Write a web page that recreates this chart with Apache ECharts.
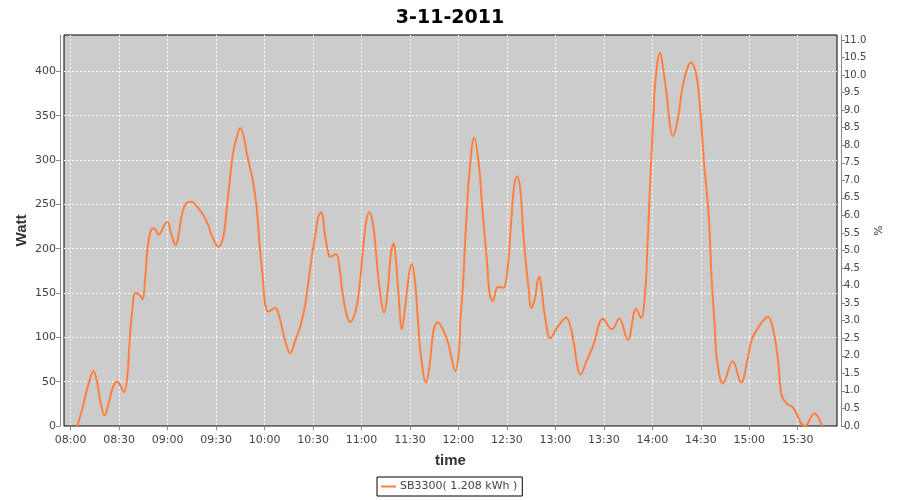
<!DOCTYPE html>
<html>
<head>
<meta charset="utf-8">
<script src="https://cdn.jsdelivr.net/npm/echarts@6/dist/echarts.min.js"></script>
<style>
html,body{margin:0;padding:0;background:#fff;}
#chart{width:900px;height:500px;}
</style>
</head>
<body>
<div id="chart"></div>
<script>
var chartTitle = '3-11-2011';
var seriesName = 'SB3300( 1.208 kWh )';
var xTickLabels = ['08:00','08:30','09:00','09:30','10:00','10:30','11:00','11:30','12:00','12:30','13:00','13:30','14:00','14:30','15:00','15:30'];
var wattTicks = [0,50,100,150,200,250,300,350,400];
var pctTicks = [0,0.5,1,1.5,2,2.5,3,3.5,4,4.5,5,5.5,6,6.5,7,7.5,8,8.5,9,9.5,10,10.5,11];
var times = ["08:04:00","08:07:00","08:09:30","08:11:30","08:14:00","08:16:30","08:18:30","08:21:00","08:23:30","08:26:00","08:28:30","08:31:00","08:33:00","08:35:00","08:36:30","08:38:00","08:40:00","08:42:30","08:44:30","08:46:00","08:47:30","08:49:30","08:51:30","08:54:30","08:58:00","09:00:00","09:02:00","09:05:00","09:07:00","09:09:00","09:12:00","09:14:30","09:18:00","09:22:00","09:25:00","09:27:30","09:31:30","09:34:30","09:36:30","09:38:30","09:40:30","09:43:00","09:45:00","09:47:00","09:49:00","09:51:00","09:53:00","09:55:00","09:57:00","09:59:00","10:00:15","10:02:15","10:06:30","10:09:00","10:11:30","10:13:45","10:15:45","10:18:45","10:22:00","10:25:00","10:27:00","10:29:15","10:31:15","10:33:15","10:35:00","10:37:30","10:39:45","10:41:00","10:44:15","10:46:15","10:48:15","10:50:45","10:53:00","10:56:30","10:58:45","11:00:45","11:02:45","11:04:45","11:07:00","11:09:00","11:11:00","11:14:00","11:16:15","11:18:15","11:20:00","11:21:15","11:23:00","11:25:00","11:27:00","11:29:15","11:31:00","11:33:00","11:34:45","11:36:45","11:40:00","11:42:00","11:44:00","11:45:00","11:47:15","11:49:45","11:53:00","11:55:00","11:58:00","12:00:15","12:01:15","12:02:45","12:04:00","12:05:15","12:06:45","12:09:45","12:12:30","12:14:30","12:16:15","12:17:45","12:19:15","12:21:15","12:24:30","12:28:00","12:29:30","12:31:00","12:32:45","12:34:15","12:36:15","12:38:15","12:40:00","12:41:30","12:43:30","12:45:00","12:47:15","12:48:45","12:50:00","12:51:45","12:53:30","12:57:00","13:01:00","13:06:45","13:10:00","13:11:00","13:15:45","13:19:00","13:23:15","13:29:30","13:35:00","13:39:30","13:44:45","13:50:00","13:53:00","13:55:30","13:57:00","13:58:15","13:59:15","14:00:45","14:02:00","14:04:45","14:06:45","14:09:00","14:11:00","14:12:45","14:16:00","14:19:15","14:24:00","14:27:00","14:29:30","14:32:00","14:34:45","14:36:45","14:38:45","14:40:00","14:43:45","14:49:45","14:55:00","14:58:30","15:01:30","15:05:30","15:11:30","15:14:45","15:18:00","15:20:00","15:23:15","15:27:00","15:34:30","15:40:15","15:45:00"];
var watts = [0,18,37,50,62,48,26,12,26,43,50,45,38,56,97,128,150,148,143,165,199,220,223,216,227,230,218,204,218,240,252,253,248,238,227,214,202,214,244,278,308,327,336,327,308,291,274,248,203,165,139,129,133,124,105,90,82,95,112,135,161,191,214,236,241,214,193,191,194,180,150,126,117,131,158,195,229,241,229,195,158,128,154,195,206,188,146,109,135,169,183,165,124,79,49,67,101,111,117,111,97,83,62,83,120,157,203,244,285,325,297,252,214,184,150,141,157,156,165,188,233,267,282,267,221,188,154,133,143,161,169,150,124,99,111,122,107,97,58,72,90,121,109,121,97,132,122,150,203,259,297,353,391,421,402,372,338,327,349,387,410,398,360,297,241,165,109,75,48,73,49,71,97,111,123,109,71,35,25,21,0,14,0];

function toMin(s){var p=s.split(':').map(Number);return p[0]*60+p[1]+(p[2]||0)/60;}
function pad(n){return (n<10?'0':'')+n;}
var data = times.map(function(t,i){return [toMin(t), watts[i]];});
var xTickValues = xTickLabels.map(toMin);

var chart = echarts.init(document.getElementById('chart'), null, {renderer:'canvas'});
var font = 'DejaVu Sans';
var nameFont = 'Liberation Sans';
chart.setOption({
  animation: false,
  backgroundColor: '#ffffff',
  title: {
    text: chartTitle, left: 'center', top: 4,
    textStyle: {fontFamily: font, fontWeight: 'bold', fontSize: 19, color: '#000'}
  },
  legend: {
    left: 377, top: 477, padding: [4,5,4,4], icon: 'rect', itemWidth: 15, itemHeight: 2,
    borderColor: '#000', borderWidth: 1, backgroundColor: '#fff', itemGap: 4,
    textStyle: {fontFamily: font, fontSize: 11, color: '#444', padding: [0,0,0,-1]},
    data: [seriesName]
  },
  grid: {
    left: 64, right: 63, top: 35, bottom: 74, containLabel: false, outerBoundsMode: 'none',
    show: true, backgroundColor: '#cccccc', borderColor: '#000', borderWidth: 1
  },
  xAxis: {
    type: 'value', min: 475.85, max: 954.3, offset: 4,
    name: 'time', nameLocation: 'middle', nameGap: 23,
    nameTextStyle: {fontFamily: nameFont, fontWeight: 'bold', fontSize: 15, color: '#333'},
    axisLine: {show: true, lineStyle: {color: '#888'}},
    axisTick: {show: true, length: 4, lineStyle: {color: '#888'}, customValues: xTickValues},
    axisLabel: {fontFamily: font, fontSize: 11, color: '#444', margin: 5, customValues: xTickValues,
      formatter: function(v){v=Math.round(v);return pad(Math.floor(v/60))+':'+pad(v%60);}},
    splitLine: {show: true, lineStyle: {color: '#fff', type: [2,2], width: 1}}
  },
  yAxis: [{
    type: 'value', min: 0, max: 441, offset: 4, position: 'left',
    name: 'Watt', nameLocation: 'middle', nameGap: 31, nameRotate: 90, nameMoveOverlap: false,
    nameTextStyle: {fontFamily: nameFont, fontWeight: 'bold', fontSize: 15, color: '#333'},
    axisLine: {show: true, lineStyle: {color: '#888'}},
    axisTick: {show: true, length: 4, lineStyle: {color: '#888'}, customValues: wattTicks},
    axisLabel: {fontFamily: font, fontSize: 11, color: '#444', margin: 4, customValues: wattTicks},
    splitLine: {show: true, lineStyle: {color: '#fff', type: [2,2], width: 1}}
  }, {
    type: 'value', min: 0, max: 11.14, offset: 4, position: 'right',
    name: '%', nameLocation: 'middle', nameGap: 33, nameRotate: 90, nameMoveOverlap: false,
    nameTextStyle: {fontFamily: font, fontSize: 11, color: '#333'},
    axisLine: {show: true, lineStyle: {color: '#888'}},
    axisTick: {show: true, length: 4, lineStyle: {color: '#888'}, customValues: pctTicks},
    axisLabel: {fontFamily: font, fontSize: 10, color: '#444', margin: 3, customValues: pctTicks,
      formatter: function(v){return v.toFixed(1);}},
    splitLine: {show: false}
  }],
  series: [{
    name: seriesName, type: 'line', yAxisIndex: 0, data: data,
    smooth: 0.4, showSymbol: false, symbol: 'none',
    lineStyle: {color: '#ff7f3f', width: 2}, itemStyle: {color: '#ff7f3f'}
  }]
});
</script>
</body>
</html>
